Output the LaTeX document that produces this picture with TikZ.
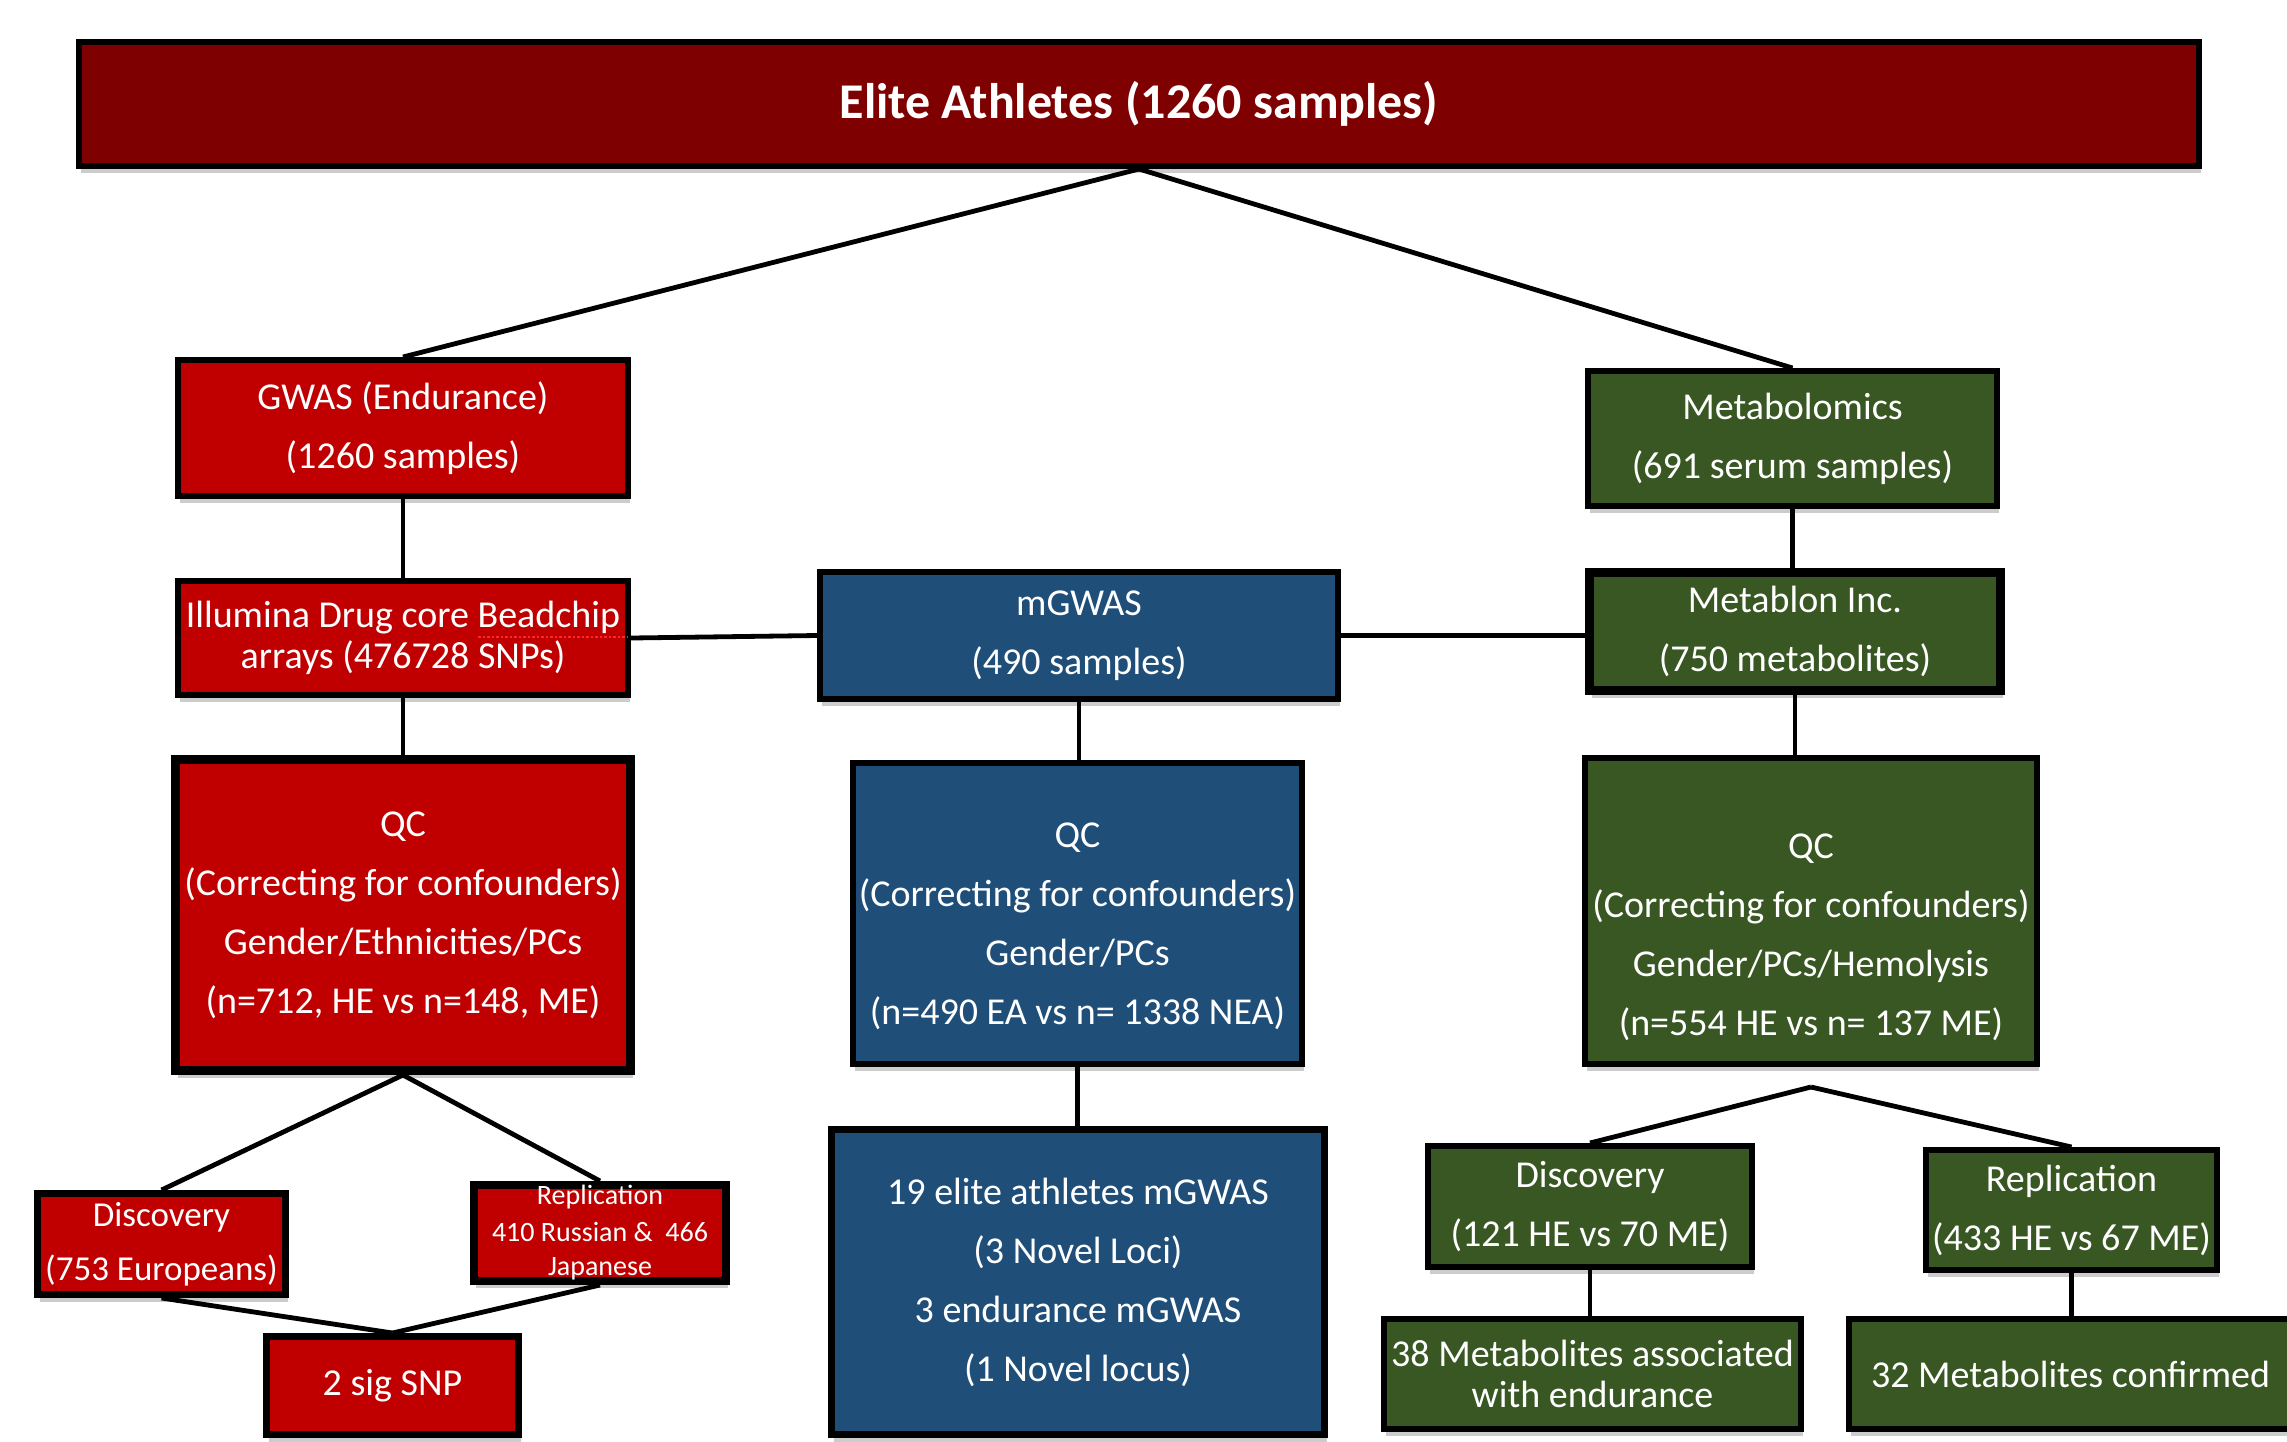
\documentclass[tikz,border=0pt]{standalone}
\usepackage{fontspec}
\setmainfont{Carlito}
\usetikzlibrary{shadows,calc}
\definecolor{cdark}{RGB}{127,0,0}
\definecolor{cred}{RGB}{192,0,0}
\definecolor{cblue}{RGB}{31,78,121}
\definecolor{cgreen}{RGB}{56,87,35}
\definecolor{cspell}{RGB}{255,40,40}
\pgfdeclarelayer{back}
\pgfdeclarelayer{bg}
\pgfsetlayers{back,bg,main}
\begin{document}
\begin{tikzpicture}[x=1pt,y=-1pt,
  box/.style={rectangle, draw=black, line width=6pt, inner sep=0pt, text=white, align=center,
    font=\fontsize{38}{59}\selectfont,
    drop shadow={shadow xshift=2pt, shadow yshift=-7pt, fill=black, opacity=0.2}},
  redbox/.style={box, fill=cred},
  bluebox/.style={box, fill=cblue},
  greenbox/.style={box, fill=cgreen},
  txt/.style={text=white, align=center, inner sep=0pt, font=\fontsize{38}{59}\selectfont},
  conn/.style={line width=4.8pt, draw=black}]
\useasboundingbox (0,0) rectangle (2287,1441);
\clip (0,0) rectangle (2287,1441);
\begin{pgfonlayer}{back}
\fill[white] (0,0) rectangle (2287,1441);
\end{pgfonlayer}

% top
\node[box, fill=cdark, minimum width=2120, minimum height=124,
  font=\fontsize{50}{60}\selectfont\bfseries] (top) at (1139,104) {Elite Athletes (1260 samples)};

% left column
\node[redbox, minimum width=450, minimum height=136] (gwas) at (403,428) {GWAS (Endurance)\\(1260 samples)};
\node[redbox, minimum width=450, minimum height=114, font=\fontsize{38}{41}\selectfont] (ill) at (403,638)
  {Illumina Drug core Beadchip\\arrays (476728 SNPs)};
\draw[cspell, line width=2.5pt, dash pattern=on 2.5pt off 2pt] (478,637) -- (628,637);
\node[redbox, line width=9pt, minimum width=455, minimum height=311] (lqc) at (403,915)
  {QC\\(Correcting for confounders)\\Gender/Ethnicities/PCs\\(n=712, HE vs n=148, ME)};
\node[redbox, line width=7pt, minimum width=248, minimum height=101, font=\fontsize{35}{54}\selectfont] (dL) at (161.5,1244)
  {Discovery\\(753 Europeans)};
\node[redbox, line width=8pt, minimum width=252, minimum height=96, font=\fontsize{28}{34}\selectfont] (rL) at (600,1233)
  {Replication\\[3pt]410 Russian \&\ \ 466\\Japanese};
\node[redbox, line width=7pt, minimum width=252, minimum height=98] (snp) at (392.5,1385.5) {2 sig SNP};

% middle column
\node[bluebox, minimum width=518, minimum height=127] (mg) at (1079,635.5) {mGWAS\\(490 samples)};
\node[bluebox, minimum width=449, minimum height=301] (mqc) at (1077.5,913.5) {};
\node[txt] (mqct) at (1077.5,926) {QC\\(Correcting for confounders)\\Gender/PCs\\(n=490 EA vs n= 1338 NEA)};
\node[bluebox, line width=7pt, minimum width=493, minimum height=305] (mres) at (1078,1282)
  {19 elite athletes mGWAS\\(3 Novel Loci)\\3 endurance mGWAS\\(1 Novel locus)};

% right column
\node[greenbox, minimum width=409, minimum height=135] (mtb) at (1792.5,438.5) {Metabolomics\\(691 serum samples)};
\node[greenbox, line width=9pt, minimum width=411, minimum height=118] (mbl) at (1795,631.5) {Metablon Inc.\\(750 metabolites)};
\node[greenbox, minimum width=452, minimum height=306] (rqc) at (1811,911) {};
\node[txt] (rqct) at (1811,937.5) {QC\\(Correcting for confounders)\\Gender/PCs/Hemolysis\\(n=554 HE vs n= 137 ME)};
\coordinate (rsplit) at ($(rqc.south)+(0,20)$);
\node[greenbox, minimum width=324, minimum height=121] (dR) at (1590,1206.5) {Discovery\\(121 HE vs 70 ME)};
\node[greenbox, minimum width=291, minimum height=120] (rR) at (2071.5,1210) {Replication\\(433 HE vs 67 ME)};
\node[greenbox, minimum width=417, minimum height=110, font=\fontsize{38}{41}\selectfont] (m38) at (1592.5,1374)
  {38 Metabolites associated\\with endurance};
\node[greenbox, minimum width=443, minimum height=110] (m32) at (2070.5,1374) {32 Metabolites confirmed};

\begin{pgfonlayer}{bg}
\draw[conn] (top.south) -- (gwas.north);
\draw[conn] (top.south) -- (mtb.north);
\draw[conn] (gwas.south) -- (ill.north);
\draw[conn] (ill.east) -- (mg.west);
\draw[conn] (mg.east) -- (mg.east -| mbl.west);
\draw[conn] (mtb.south) -- (mtb.south |- mbl.north);
\draw[conn] (ill.south) -- (ill.south |- lqc.north);
\draw[conn] (mg.south) -- (mg.south |- mqc.north);
\draw[conn] (mbl.south) -- (mbl.south |- rqc.north);
\draw[conn] (mqc.south) -- (mqc.south |- mres.north);
\draw[conn] (lqc.south) -- (dL.north);
\draw[conn] (lqc.south) -- (rL.north);
\draw[conn] (dL.south) -- (snp.north);
\draw[conn] (rL.south) -- (snp.north);
\draw[conn] (rsplit) -- (dR.north);
\draw[conn] (rsplit) -- (rR.north);
\draw[conn] (dR.south) -- (dR.south |- m38.north);
\draw[conn] (rR.south) -- (rR.south |- m32.north);
\end{pgfonlayer}
\end{tikzpicture}
\end{document}
